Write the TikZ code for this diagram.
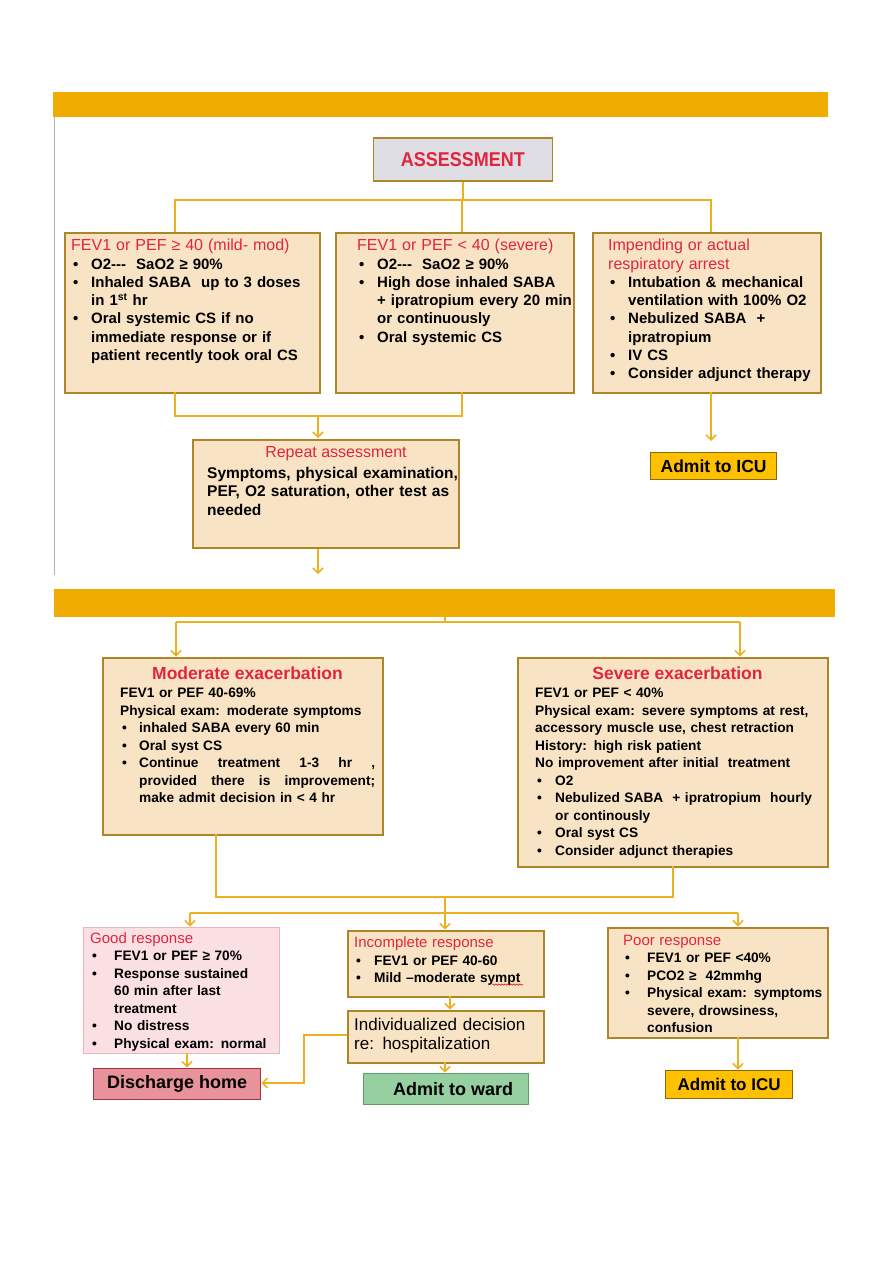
\documentclass[tikz,border=0pt]{standalone}
\usepackage{fontspec}
\setmainfont{Liberation Sans}
\newfontfamily\condfont[FakeStretch=0.9]{Liberation Sans}
\usetikzlibrary{arrows.meta,decorations.pathmorphing}
\definecolor{barclr}{HTML}{F0AC00}
\definecolor{lineclr}{HTML}{EDB01E}
\definecolor{boxfill}{HTML}{F9E3C5}
\definecolor{boxborder}{HTML}{AD862A}
\definecolor{grayfill}{HTML}{DEDEE4}
\definecolor{redtxt}{HTML}{E0263F}
\definecolor{icufill}{HTML}{FFC000}
\definecolor{icuborder}{HTML}{8A6A10}
\definecolor{goodfill}{HTML}{FADFE3}
\definecolor{goodborder}{HTML}{E9B5C0}
\definecolor{disfill}{HTML}{E8939C}
\definecolor{disborder}{HTML}{A2323E}
\definecolor{wardfill}{HTML}{96CFA0}
\definecolor{wardborder}{HTML}{5F9E6C}
\newcommand\bitem[2][20pt]{\par\hangindent=#1\hangafter=1\noindent\makebox[#1][l]{\hspace{2pt}\textbullet}#2\par}
\newcommand\ttlA[1]{{\mdseries\color{redtxt}\fontsize{16}{18.3}\selectfont #1\par}}
\newcommand\ttlB[1]{{\mdseries\color{redtxt}\fontsize{15}{17.5}\selectfont #1\par}}
\newcommand\tridash{{-}{-}{-}}
\tikzset{
  box/.style={draw=boxborder,fill=boxfill,line width=1.6pt,inner sep=0pt,anchor=north west},
  conn/.style={draw=lineclr,line width=1.6pt},
  arr/.style={conn,-{Straight Barb[length=5pt,width=10pt,line width=1.5pt]}},
  topbody/.style={inner sep=0pt,anchor=north west,align=left,font=\fontsize{15}{18.3}\selectfont\bfseries},
  botbody/.style={inner sep=0pt,anchor=north west,align=left,font=\fontsize{13.7}{17.5}\selectfont\bfseries},
}
\begin{document}
\begin{tikzpicture}[x=1pt,y=-1pt]
\useasboundingbox (0,0) rectangle (893,1263);
% ---------- section 1 ----------
\fill[barclr] (53,92) rectangle (828,117);
\draw[gray!60,line width=0.8pt] (54,117) -- (54,575);
\node[box,draw=boxborder,fill=grayfill,minimum width=179pt,minimum height=43pt] (assess) at (372.5,137) {};
\node[text=redtxt,font=\condfont\fontsize{20}{22}\selectfont\bfseries] (assesst) at (assess.center) {ASSESSMENT};

\node[box,minimum width=255pt,minimum height=160pt] (b1) at (64,232) {};
\node[box,minimum width=238pt,minimum height=160pt] (b2) at (335,232) {};
\node[box,minimum width=228pt,minimum height=160pt] (b3) at (592,232) {};
\node[box,minimum width=266pt,minimum height=108pt] (rep) at (192,439) {};
\node[box,fill=icufill,draw=icuborder,line width=1.2pt,minimum width=126pt,minimum height=27pt] (icu1) at (650,452) {};
\node[font=\fontsize{17.5}{20}\selectfont\bfseries] (icu1t) at (icu1.center) {Admit to ICU};

\node[topbody,text width=250pt] (b1t) at (71,239) {%
\ttlA{FEV1 or PEF ≥ 40 (mild- mod)}%
\bitem{O2\tridash\ \ SaO2 ≥ 90\%}%
\bitem{Inhaled SABA \ up to 3 doses\newline in 1\textsuperscript{st} hr}%
\bitem{Oral systemic CS if no\newline immediate response or if\newline patient recently took oral CS}};
\node[topbody,text width=230pt] (b2t) at (357,239) {%
\ttlA{FEV1 or PEF < 40 (severe)}%
\bitem{O2\tridash\ \ SaO2 ≥ 90\%}%
\bitem{High dose inhaled SABA\newline + ipratropium every 20 min\newline or continuously}%
\bitem{Oral systemic CS}};
\node[topbody,text width=215pt] (b3t) at (608,239) {%
\ttlA{Impending or actual\newline respiratory arrest}%
\bitem{Intubation \& mechanical\newline ventilation with 100\% O2}%
\bitem{Nebulized SABA \ +\newline ipratropium}%
\bitem{IV CS}%
\bitem{Consider adjunct therapy}};
\node[text=redtxt,font=\fontsize{16}{18}\selectfont,inner sep=0pt] (rept) at (336,454) {Repeat assessment};
\node[topbody,text width=260pt,font=\fontsize{15.5}{18.5}\selectfont\bfseries] (repb) at (207,467) {%
Symptoms, physical examination,\newline PEF, O2 saturation, other test as\newline needed};

% connectors section 1
\coordinate (j1) at (462,200);
\draw[conn] (assess.south) -- (assess.south |- j1);
\draw[conn] (175,232) |- (j1) -| (711,232);
\draw[conn] (j1) -- (j1 |- b2.north);
\draw[conn] (175,392) |- (462,416) -- (462,392);
\draw[arr] (318,416) -- (318,438);
\coordinate (out1) at (318,574);
\draw[arr] (rep.south -| out1) -- (out1);
\draw[arr,shorten >=10pt] (711,392) -- (711,451);

% ---------- section 2 ----------
\fill[barclr] (54,589) rectangle (835,617);
\node[box,minimum width=280pt,minimum height=177pt] (mod) at (102,657) {};
\node[box,minimum width=310pt,minimum height=209pt] (sev) at (517,657) {};
\draw[conn] (445,617) -- (445,622);
\draw[conn] (176,622) -- (740,622);
\draw[arr] (176,622) -- (176,656.5);
\draw[arr] (740,622) -- (740,656.5);

\node[text=redtxt,font=\fontsize{17.5}{20}\selectfont\bfseries,inner sep=0pt] (modt) at (247.5,673) {Moderate exacerbation};
\node[text=redtxt,font=\fontsize{17.5}{20}\selectfont\bfseries,inner sep=0pt] (sevt) at (677.5,673) {Severe exacerbation};
\node[botbody,text width=255pt] (modb) at (120,688) {%
FEV1 or PEF 40-69\%\par
Physical exam: moderate symptoms\par
\bitem[19pt]{inhaled SABA every 60 min}%
\bitem[19pt]{Oral syst CS}%
\bitem[19pt]{Continue\hfill treatment\hfill 1-3\hfill hr\hfill ,\newline provided\hfill there\hfill is\hfill improvement;\newline make admit decision in < 4 hr}};
\node[botbody,text width=290pt] (sevb) at (535,688) {%
FEV1 or PEF < 40\%\par
Physical exam: severe symptoms at rest,\par
accessory muscle use, chest retraction\par
History: high risk patient\par
No improvement after initial \ treatment\par
\bitem{O2}%
\bitem{Nebulized SABA \ + ipratropium \ hourly\newline or continously}%
\bitem{Oral syst CS}%
\bitem{Consider adjunct therapies}};

% responses
\node[box,fill=goodfill,draw=goodborder,line width=1.2pt,minimum width=196pt,minimum height=126pt] (good) at (83,927) {};
\node[box,minimum width=196pt,minimum height=66pt] (inc) at (347,930) {};
\node[box,minimum width=196pt,minimum height=52pt] (ind) at (347,1010) {};
\node[box,minimum width=220pt,minimum height=110pt] (poor) at (607,927) {};
\node[box,fill=disfill,draw=disborder,line width=1.4pt,minimum width=167pt,minimum height=31pt] (dis) at (93,1068) {};
\node[box,fill=wardfill,draw=wardborder,line width=1.4pt,minimum width=165pt,minimum height=31pt] (ward) at (363,1073) {};
\node[box,fill=icufill,draw=icuborder,line width=1.2pt,minimum width=127pt,minimum height=28pt] (icu2) at (665,1070) {};
\node[font=\fontsize{18}{20}\selectfont\bfseries] (dist) at (dis.center) {Discharge home};
\node[font=\fontsize{18}{20}\selectfont\bfseries] (wardt) at ([xshift=7pt]ward.center) {Admit to ward};
\node[font=\fontsize{17}{20}\selectfont\bfseries] (icu2t) at (icu2.center) {Admit to ICU};

\node[botbody,text width=190pt] (goodb) at (90,932) {%
\ttlB{Good response}%
\bitem[24pt]{FEV1 or PEF ≥ 70\%}%
\bitem[24pt]{Response sustained\newline 60 min after last\newline treatment}%
\bitem[24pt]{No distress}%
\bitem[24pt]{Physical exam: normal}};
\node[botbody,text width=185pt] (incb) at (354,936.5) {%
\ttlB{Incomplete response}%
\bitem{FEV1 or PEF 40-60}%
\bitem{Mild –moderate sympt}};
\node[inner sep=0pt,anchor=north west,align=left,text width=190pt,font=\fontsize{17}{19}\selectfont] (indb) at (354,1017.5) {%
Individualized decision\newline re: hospitalization};
\node[botbody,text width=205pt] (poorb) at (623,934.5) {%
\ttlB{Poor response}%
\bitem[24pt]{FEV1 or PEF <40\%}%
\bitem[24pt]{PCO2 ≥ \ 42mmhg}%
\bitem[24pt]{Physical exam: symptoms\newline severe, drowsiness,\newline confusion}};
\draw[red!85!black,line width=0.5pt,decorate,decoration={snake,amplitude=0.7pt,segment length=3pt}] (492,984.5) -- (523,984.5);

% connectors section 2
\draw[conn] (216,834) |- (673,897) -- (673,866);
\draw[conn] (190,913) -- (738,913);
\draw[arr] (190,913) -- (190,926.5);
\draw[arr] (738,913) -- (738,926.5);
\draw[arr] (445,897) -- (445,929.5);
\draw[arr] (187,1053) -- (187,1067.5);
\draw[arr] (450,996) -- (450,1009.5);
\draw[arr] (445,1062) -- (445,1072.5);
\draw[arr] (738,1037) -- (738,1069.5);
\draw[arr] (ind.west |- 0,1035) -- (304,1035) |- (dis.east |- 0,1083);
\end{tikzpicture}
\end{document}
